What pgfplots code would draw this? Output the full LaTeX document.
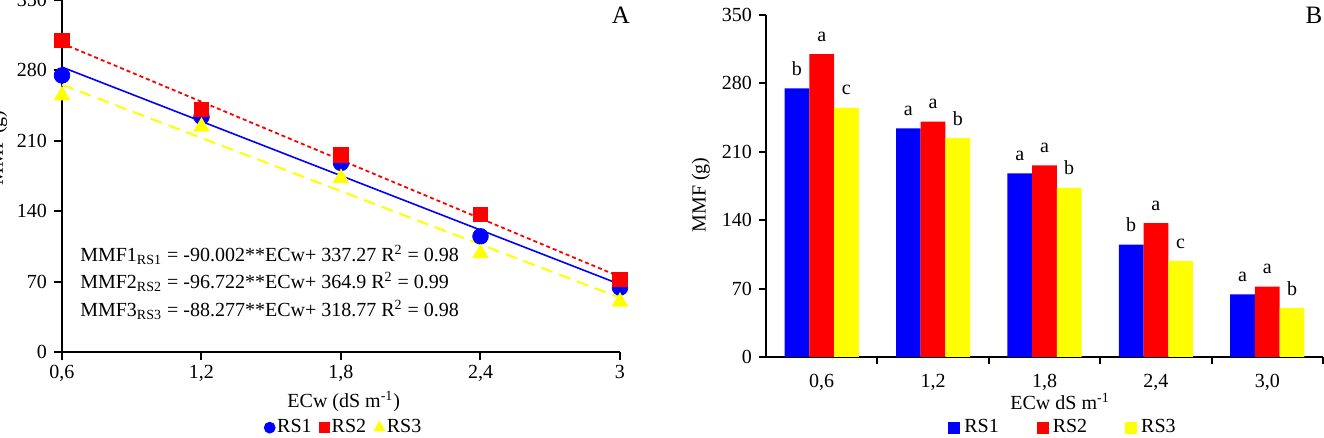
\documentclass[border=0pt]{standalone}
\usepackage{pgfplots}
\pgfplotsset{compat=1.18}
\usepackage{pgfplotstable}
\usepackage{fontspec}
\setmainfont{Liberation Serif}
\definecolor{cblue}{RGB}{0,0,255}
\definecolor{cred}{RGB}{255,0,0}
\definecolor{cyel}{RGB}{255,255,0}

\pgfplotstableread{
x rs1 rs2 rs3
0.6 275 310 255
1.2 234 241 224
1.8 188 196 173
2.4 115 137 98
3.0 64 72 50
}\dataA

\pgfplotstableread{
c rs1 l1 rs2 l2 rs3 l3
0 275 b 310 a 255 c
1 234 a 241 a 224 b
2 188 a 196 a 173 b
3 115 b 137 a 98 c
4 64 a 72 a 50 b
}\dataB

\newcommand{\fs}{\fontsize{10}{12}\selectfont}

\begin{document}
\begin{tikzpicture}[x=1pt,y=1pt]
\useasboundingbox (0,0) rectangle (662,219);
% ---------------- Panel A
\begin{axis}[
  at={(31pt,43pt)}, anchor=south west, scale only axis,
  width=279pt, height=176pt,
  xmin=0.6, xmax=3, ymin=0, ymax=350,
  axis lines=left, axis line style={-, line width=1.1pt},
  xtick={0.6,1.2,1.8,2.4,3}, xticklabels={{0,6},{1,2},{1,8},{2,4},3},
  ytick={0,70,140,210,280,350},
  tick align=outside, major tick length=4pt,
  tick style={black, line width=1pt},
  tick label style={font=\fs},
  xticklabel style={yshift=1pt},
  /pgf/number format/assume math mode=true,
  xlabel={ECw (dS m\textsuperscript{-1})},
  xlabel style={font=\fs, at={(axis description cs:0.505,-0.14)}, anchor=center},
  legend style={at={(axis description cs:0.505,-0.215)}, anchor=center, draw=none, fill=none,
    font=\fs, legend columns=3, inner sep=0pt, nodes={inner xsep=1pt},
    /tikz/every even column/.append style={column sep=3pt}},
  legend image code/.code={\draw[mark repeat=2,mark phase=2,#1,mark options={scale=0.7}] plot coordinates {(0cm,0cm) (0.13cm,0cm) (0.26cm,0cm)};},
  clip=false,
]
\addplot[only marks, mark=*, mark size=3.9pt, cblue] table[x=x,y=rs1]{\dataA};
\addplot[only marks, mark=square*, mark size=3.6pt, cred] table[x=x,y=rs2]{\dataA};
\addplot[only marks, mark=triangle*, mark size=4.4pt, cyel] table[x=x,y=rs3]{\dataA};
\addplot[cblue, line width=0.8pt, forget plot] coordinates {(0.6,283.27) (3,67.26)};
\addplot[cred, line width=0.9pt, dash pattern=on 2pt off 1.5pt, forget plot] coordinates {(0.6,306.87) (3,74.73)};
\addplot[cyel, line width=1pt, dash pattern=on 6pt off 3.5pt, forget plot] coordinates {(0.6,265.80) (3,53.94)};
\legend{RS1,RS2,RS3}
\node[anchor=west, font=\fs, inner sep=0pt] at (axis cs:0.677,96.5) {MMF1\textsubscript{RS1} = -90.002**ECw+ 337.27 R\textsuperscript{2} = 0.98};
\node[anchor=west, font=\fs, inner sep=0pt] at (axis cs:0.677,69.6) {MMF2\textsubscript{RS2} = -96.722**ECw+ 364.9 R\textsuperscript{2} = 0.99};
\node[anchor=west, font=\fs, inner sep=0pt] at (axis cs:0.677,41.8) {MMF3\textsubscript{RS3} = -88.277**ECw+ 318.77 R\textsuperscript{2} = 0.98};
\end{axis}
\node[font=\fontsize{12.5}{14}\selectfont] at (310.5,211.5) {A};
\node[rotate=90, font=\fs] at (-1,145) {MMF (g)};
% ---------------- Panel B
\begin{axis}[
  at={(383pt,40.5pt)}, anchor=south west, scale only axis,
  width=278.5pt, height=171pt,
  xmin=-0.5, xmax=4.5, ymin=0, ymax=350,
  axis lines=left, axis line style={-, line width=1.1pt},
  ybar, bar width=0.222,
  xtick={0.5,1.5,2.5,3.5,4.5}, xticklabels={},
  extra x ticks={0,1,2,3,4},
  extra x tick labels={{0,6},{1,2},{1,8},{2,4},{3,0}},
  extra x tick style={major tick length=0pt, xticklabel style={yshift=-5pt}},
  ytick={0,70,140,210,280,350},
  tick align=outside, major tick length=3.5pt,
  tick style={black, line width=1pt},
  tick label style={font=\fs},
  /pgf/number format/assume math mode=true,
  xlabel={ECw dS m\textsuperscript{-1}},
  xlabel style={font=\fs, at={(axis description cs:0.528,-0.13)}, anchor=center},
  ylabel={MMF (g)},
  ylabel style={font=\fs, at={(axis description cs:-0.117,0.474)}, anchor=center},
  legend style={at={(axis description cs:0.535,-0.207)}, anchor=center, draw=none, fill=none,
    font=\fs, legend columns=3, inner sep=0pt, nodes={inner xsep=2pt},
    /tikz/every even column/.append style={column sep=17pt}},
  legend image code/.code={\fill[#1] (0pt,-3pt) rectangle (6pt,3pt);},
  nodes near coords, point meta=explicit symbolic,
  every node near coord/.append style={font=\fs, anchor=base, yshift=6.5pt, inner sep=0pt, black},
  clip=false,
]
\addplot[draw=none, fill=cblue, bar shift=-0.222] table[x=c,y=rs1,meta=l1]{\dataB};
\addplot[draw=none, fill=cred, bar shift=0] table[x=c,y=rs2,meta=l2]{\dataB};
\addplot[draw=none, fill=cyel, bar shift=0.222] table[x=c,y=rs3,meta=l3]{\dataB};
\legend{RS1,RS2,RS3}
\end{axis}
\node[font=\fontsize{12.5}{14}\selectfont] at (657,211.5) {B};
\end{tikzpicture}
\end{document}
